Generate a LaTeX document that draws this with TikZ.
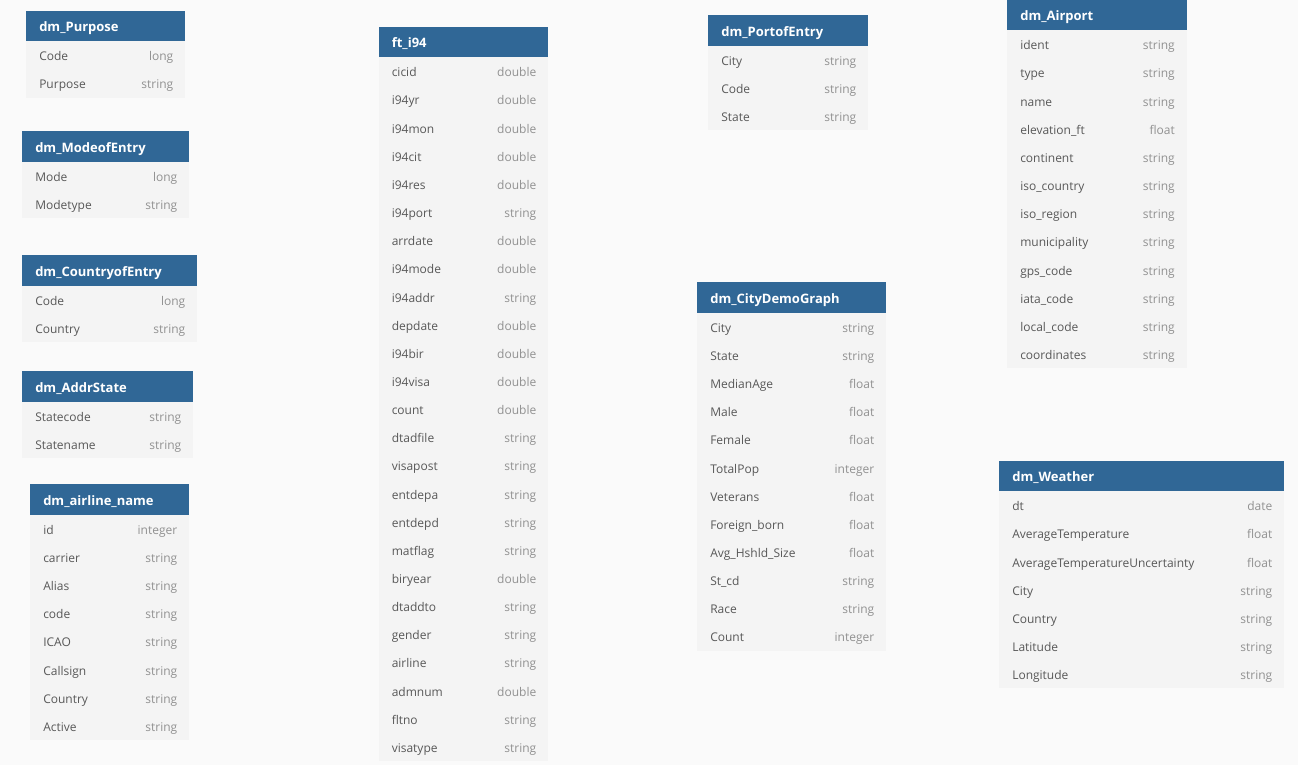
\documentclass[tikz,border=0pt]{standalone}
\usepackage{fontspec}
\setmainfont{Open Sans}
\usepackage{xcolor}
\usetikzlibrary{positioning}

\definecolor{headblue}{RGB}{48,103,150}
\definecolor{rowgray}{RGB}{244,244,244}
\definecolor{pagebg}{RGB}{250,250,250}
\definecolor{fieldtext}{RGB}{88,88,88}
\definecolor{typetext}{RGB}{145,145,145}

% table: name, left, top, width, title, field/type list
\newcommand{\erdtable}[6]{%
  \pgfmathsetlengthmacro\tblw{(#4-26)*0.75pt}%
  \node[tablehead, text width=\tblw, anchor=north west] (#1) at (#2,#3) {#5};
  \foreach \f/\t [count=\i] in {#6} {
    \node[tablerow, text width=\tblw, anchor=north west] (#1-\i)
      at (#2,{#3+30.5+(\i-1)*28.15}) {\f};
    \node[rowtype, anchor=base east] (#1-\i-t) at ([xshift=-9pt]#1-\i.base east) {\t};
  }
}

\begin{document}
\begin{tikzpicture}[x=0.75pt, y=-0.75pt]

\tikzstyle{tablehead} = [rectangle, fill=headblue, text=white, align=left,
                         inner xsep=9.75pt, inner ysep=0pt, minimum height=22.9pt,
                         text height=10pt, text depth=1.7pt,
                         font=\fontsize{9.75}{12}\selectfont\bfseries]
\tikzstyle{tablerow}  = [rectangle, fill=rowgray, text=fieldtext, align=left,
                         inner xsep=9.75pt, inner ysep=0pt, minimum height=21.11pt,
                         text height=9.2pt, text depth=1pt,
                         font=\fontsize{9}{11}\selectfont]
\tikzstyle{rowtype}   = [inner sep=0pt, text=typetext,
                         font=\fontsize{9}{11}\selectfont]

\fill[pagebg] (0,0) rectangle (1298,765);
\useasboundingbox (0,0) rectangle (1298,765);

\erdtable{purpose}{26}{10.5}{159}{dm\_Purpose}
  {Code/long, Purpose/string}
\erdtable{mode}{22}{131}{167}{dm\_ModeofEntry}
  {Mode/long, Modetype/string}
\erdtable{country}{22}{255}{175}{dm\_CountryofEntry}
  {Code/long, Country/string}
\erdtable{addr}{22}{371}{171}{dm\_AddrState}
  {Statecode/string, Statename/string}
\erdtable{airline}{30}{484}{159}{dm\_airline\_name}
  {id/integer, carrier/string, Alias/string, code/string, ICAO/string,
   Callsign/string, Country/string, Active/string}

\erdtable{fti}{378.5}{26.5}{169.5}{ft\_i94}
  {cicid/double, i94yr/double, i94mon/double, i94cit/double, i94res/double,
   i94port/string, arrdate/double, i94mode/double, i94addr/string,
   depdate/double, i94bir/double, i94visa/double, count/double,
   dtadfile/string, visapost/string, entdepa/string, entdepd/string,
   matflag/string, biryear/double, dtaddto/string, gender/string,
   airline/string, admnum/double, fltno/string, visatype/string}

\erdtable{port}{708}{15}{160}{dm\_PortofEntry}
  {City/string, Code/string, State/string}
\erdtable{city}{697}{282}{189}{dm\_CityDemoGraph}
  {City/string, State/string, MedianAge/float, Male/float, Female/float,
   TotalPop/integer, Veterans/float, Foreign\_born/float,
   Avg\_Hshld\_Size/float, St\_cd/string, Race/string, Count/integer}

\erdtable{airport}{1007}{-0.5}{179.5}{dm\_Airport}
  {ident/string, type/string, name/string, elevation\_ft/float,
   continent/string, iso\_country/string, iso\_region/string,
   municipality/string, gps\_code/string, iata\_code/string,
   local\_code/string, coordinates/string}
\erdtable{weather}{999}{460.5}{285}{dm\_Weather}
  {dt/date, AverageTemperature/float, AverageTemperatureUncertainty/float,
   City/string, Country/string, Latitude/string, Longitude/string}

\end{tikzpicture}
\end{document}
